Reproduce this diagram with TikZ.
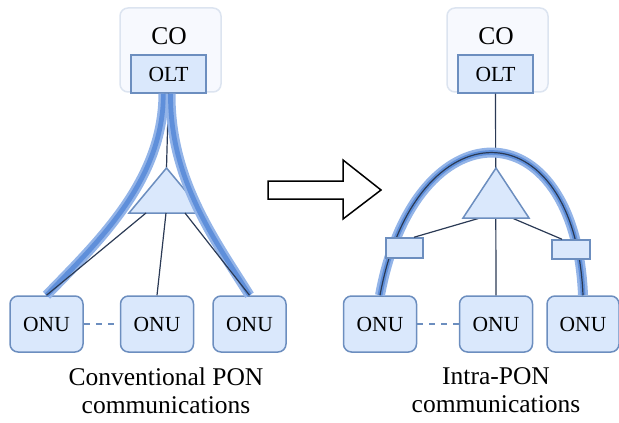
\documentclass[tikz,border=0pt]{standalone}
\usepackage{fontspec}
\setmainfont{Liberation Serif}
\usetikzlibrary{positioning}
\definecolor{nodefill}{HTML}{DAE8FC}
\definecolor{nodeline}{HTML}{6C8EBF}
\definecolor{cofill}{HTML}{F7F9FE}
\definecolor{coline}{HTML}{DCE4F0}
\definecolor{fibre}{HTML}{2B3A55}
\definecolor{bandout}{HTML}{93B4E8}
\definecolor{bandin}{HTML}{5F8FDA}

\begin{document}
\begin{tikzpicture}[x=0.5pt, y=-0.5pt,
	every node/.style={font=\fontsize{10.75}{13}\selectfont, inner sep=0pt},
	cobox/.style={draw=coline, fill=cofill, rounded corners=4pt, minimum width=50.5pt, minimum height=42pt, line width=0.75pt},
	oltbox/.style={draw=nodeline, fill=nodefill, minimum width=37.5pt, minimum height=19pt, line width=0.75pt},
	onubox/.style={draw=nodeline, fill=nodefill, rounded corners=4pt, minimum width=36.5pt, minimum height=28pt, line width=0.75pt},
	coupler/.style={draw=nodeline, fill=nodefill, minimum width=18.5pt, minimum height=10pt, line width=0.75pt},
	splitter/.style={draw=nodeline, fill=nodefill, line width=0.75pt, line join=miter},
	fibreline/.style={draw=fibre, line width=0.6pt},
	band/.style={draw=bandin, line width=2.4pt, preaction={draw=bandout, line width=5pt}},
	onulink/.style={draw=nodeline, line width=0.6pt, dash pattern=on 3pt off 3pt},
	cotext/.style={font=\fontsize{12.75}{14}\selectfont},
	caption/.style={font=\fontsize{12.75}{14}\selectfont, align=center, anchor=north}]
	\useasboundingbox (0,0) rectangle (619,422);

	\node[cobox] (coL) at (170.5,50) {};
	\node[cotext] (coTextL) at (169,36) {CO};
	\node[oltbox] (oltL) at (168.5,74) {OLT};
	\node[onubox] (onuLa) at (46.5,324) {ONU};
	\node[onubox] (onuLb) at (157,324) {ONU};
	\node[onubox] (onuLc) at (249.5,324) {ONU};
	\coordinate (apexL) at (166.5,168);
	\coordinate (tapLa) at (146,213);
	\coordinate (tapLb) at (166,213);
	\coordinate (tapLc) at (185,213);
	\draw[fibreline] (oltL.south) -- (apexL);
	\draw[splitter] (apexL) -- (129,213) -- (204,213) -- cycle;
	\draw[onulink] (onuLa.east) -- (onuLb.west);
	\draw[band] ([xshift=-2.5pt]oltL.south) .. controls (163,180) and (100,240) .. (onuLa.north);
	\draw[band] ([xshift=1pt]oltL.south) .. controls (170,180) and (215,240) .. (onuLc.north);
	\draw[fibreline] (tapLa) -- (onuLa.north);
	\draw[fibreline] (tapLb) -- (onuLb.north);
	\draw[fibreline] (tapLc) -- (onuLc.north);
	\node[caption] (capL) at (166,367) {Conventional PON\\communications};

	\draw[line width=0.75pt, line join=miter] (268,181) -- (343,181) -- (343,160) -- (381,190)
		-- (343,219) -- (343,199) -- (268,199) -- cycle;

	\node[cobox] (coR) at (497.5,50) {};
	\node[cotext] (coTextR) at (496,36) {CO};
	\node[oltbox] (oltR) at (495.5,74) {OLT};
	\node[onubox] (onuRa) at (380,324) {ONU};
	\node[onubox] (onuRb) at (496,324) {ONU};
	\node[onubox, minimum width=36pt] (onuRc) at (583,324) {ONU};
	\coordinate (apexR) at (496,168);
	\coordinate (tapRa) at (480,218);
	\coordinate (tapRc) at (512,218);
	\draw[fibreline] (oltR.south) -- (onuRb.north);
	\draw[band] (onuRa.north) .. controls (415,105) and (575,105) .. (onuRc.north);
	\draw[fibreline] (onuRa.north) .. controls (415,105) and (575,105) .. (onuRc.north);
	\node[coupler] (cplRa) at (404.5,248) {};
	\node[coupler, minimum width=19pt, minimum height=9.5pt] (cplRc) at (571,249.5) {};
	\draw[fibreline] (tapRa) -- (cplRa.north -| 414,0);
	\draw[fibreline] (tapRc) -- (cplRc.north -| 562,0);
	\draw[splitter] (apexR) -- (463,218) -- (529,218) -- cycle;
	\draw[onulink] (onuRa.east) -- (onuRb.west);
	\node[caption] (capR) at (496,367) {Intra-PON\\communications};
\end{tikzpicture}
\end{document}
